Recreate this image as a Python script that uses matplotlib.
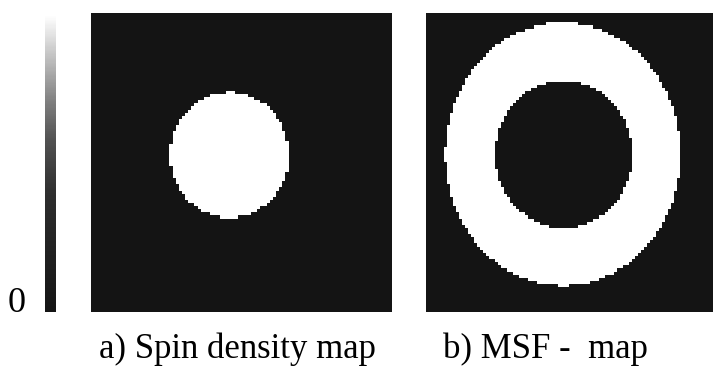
import numpy as np
import matplotlib
matplotlib.use("Agg")
import matplotlib.pyplot as plt
from matplotlib.colors import LinearSegmentedColormap

# ---- data ----
grid_n = 96
# spin density: a single bright disc (center x, center y from top, radius x, radius y) in panel fractions
spin_disc = [0.46, 0.475, 0.197, 0.21]
spin_level = 1.0
# MSF map: bright ring (outer ellipse, inner ellipse)
msf_outer = [0.477, 0.472, 0.41, 0.44]
msf_inner = [0.48, 0.472, 0.24, 0.247]
msf_level = 1.0
background_level = 0.0

# colour scale: value -> grey level
cmap_values = [0.0, 0.40, 0.58, 0.71, 0.85, 1.0]
cmap_greys = [0.08, 0.18, 0.32, 0.50, 0.74, 1.0]
cbar_ticks = [0]
cbar_ticklabels = ["0"]

labels = ["a) Spin density map", "b) MSF -  map"]

# ---- build fields ----
yy, xx = np.mgrid[0:grid_n, 0:grid_n]
xs = (xx + 0.5) / grid_n
ys = (yy + 0.5) / grid_n


def inside(e):
    cx, cy, rx, ry = e
    return ((xs - cx) / rx) ** 2 + ((ys - cy) / ry) ** 2 <= 1.0


spin = np.full((grid_n, grid_n), background_level)
spin[inside(spin_disc)] = spin_level

msf = np.full((grid_n, grid_n), background_level)
msf[inside(msf_outer) & ~inside(msf_inner)] = msf_level

cmap = LinearSegmentedColormap.from_list(
    "greyscale", list(zip(cmap_values, [(g, g, g) for g in cmap_greys])))

plt.rcParams['font.family'] = ['Liberation Serif', 'DejaVu Serif']

W, H = 714, 367
fig = plt.figure(figsize=(W / 100, H / 100), dpi=100)
fig.patch.set_facecolor("white")


def rect(x0, y0, x1, y1):
    return [x0 / W, 1 - y1 / H, (x1 - x0) / W, (y1 - y0) / H]


cax = fig.add_axes(rect(45, 15, 56, 312))
ax_a = fig.add_axes(rect(91, 13, 391, 312))
ax_b = fig.add_axes(rect(426, 13, 713, 312))

im = ax_a.imshow(spin, cmap=cmap, vmin=0, vmax=1, extent=[0, 1, 1, 0],
                 aspect='auto', interpolation='nearest')
ax_b.imshow(msf, cmap=cmap, vmin=0, vmax=1, extent=[0, 1, 1, 0],
            aspect='auto', interpolation='nearest')
for ax in (ax_a, ax_b):
    ax.set_xticks([])
    ax.set_yticks([])
    for s in ax.spines.values():
        s.set_visible(False)

cb = fig.colorbar(im, cax=cax, ticks=cbar_ticks)
cb.outline.set_visible(False)
cax.yaxis.set_ticks_position('left')
cax.set_yticklabels(cbar_ticklabels)
cax.tick_params(length=0, pad=14, labelsize=26)
for t in cax.get_yticklabels():
    t.set_verticalalignment('baseline')

fig.text(237 / W, 1 - 358 / H, labels[0], ha='center', va='baseline', fontsize=25)
fig.text(545 / W, 1 - 358 / H, labels[1], ha='center', va='baseline', fontsize=25)

fig.savefig("out.png", dpi=100, facecolor="white")
